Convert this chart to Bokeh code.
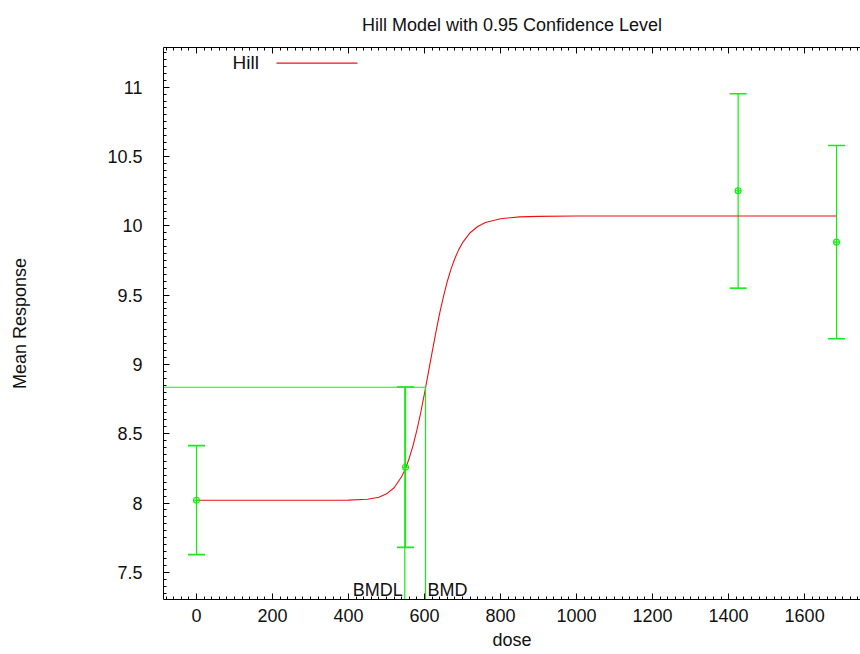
from bokeh.plotting import figure
from bokeh.models import (Range1d, LinearAxis, SingleIntervalTicker, CustomJSTickFormatter,
                          Whisker, TeeHead, ColumnDataSource, Label, BoxAnnotation)
from bokeh.embed import file_html
from bokeh.resources import INLINE

# ---- data ----
dose = [0, 550, 1425, 1684]
mean_response = [8.02, 8.258, 10.253, 9.882]
ci_lower = [7.628, 7.68, 9.550, 9.185]
ci_upper = [8.414, 8.837, 10.952, 10.579]

# Hill model curve
curve_dose = [0, 200, 400, 450, 480, 500, 520, 540, 550, 560, 570, 580, 590, 600,
              610, 620, 630, 640, 650, 660, 670, 680, 690, 700, 720, 740, 760,
              800, 850, 900, 1000, 1200, 1684]
curve_response = [8.02, 8.02, 8.021, 8.027, 8.042, 8.066, 8.110, 8.191, 8.250, 8.325,
                  8.417, 8.527, 8.653, 8.792, 8.940, 9.089, 9.235, 9.371, 9.493, 9.600,
                  9.691, 9.766, 9.828, 9.878, 9.950, 9.995, 10.023, 10.051, 10.064,
                  10.068, 10.070, 10.070, 10.070]

bmr = 8.835
bmd = 602.6
bmdl = 548.0

title_text = "Hill Model with 0.95 Confidence Level"
x_label = "dose"
y_label = "Mean Response"
legend_label = "Hill"

# ---- layout / style ----
X_START, X_END = -86.8, 1747.0
Y_START, Y_END = 7.304, 11.286
FONT = "Liberation Sans"
GREEN = "#11ee11"
RED = "#ee1111"
TXT = "#111111"

p = figure(width=860, height=654, output_backend="svg", toolbar_location=None,
           x_range=Range1d(X_START, X_END), y_range=Range1d(Y_START, Y_END),
           x_axis_location=None, y_axis_location=None,
           min_border_left=163, min_border_right=0, min_border_top=47, min_border_bottom=55)
p.outline_line_color = None
p.xgrid.visible = False
p.ygrid.visible = False
p.background_fill_color = "white"
p.border_fill_color = "white"

p.title.text = title_text
p.title.align = "center"
p.title.text_font = FONT
p.title.text_font_size = "18px"
p.title.text_font_style = "normal"
p.title.text_color = TXT
p.title.standoff = 25

xticker = SingleIntervalTicker(interval=200, num_minor_ticks=10)
yticker = SingleIntervalTicker(interval=0.5, num_minor_ticks=10)
fmt = CustomJSTickFormatter(code="return String(tick);")

def style_axis(ax):
    ax.axis_line_color = "black"
    ax.major_tick_line_color = "black"
    ax.minor_tick_line_color = "black"
    ax.major_tick_in = 6
    ax.major_tick_out = 0
    ax.minor_tick_in = 3
    ax.minor_tick_out = 0
    ax.major_label_text_font = FONT
    ax.major_label_text_color = TXT
    ax.axis_label_text_font = FONT
    ax.axis_label_text_color = TXT
    ax.axis_label_text_font_style = "normal"

xaxis = LinearAxis(ticker=xticker, formatter=fmt, axis_label=x_label)
style_axis(xaxis)
xaxis.major_label_text_font_size = "18px"
xaxis.major_label_standoff = 9
xaxis.axis_label_text_font_size = "18px"
xaxis.axis_label_standoff = 5
p.add_layout(xaxis, "below")

yaxis = LinearAxis(ticker=yticker, formatter=fmt, axis_label=y_label)
style_axis(yaxis)
yaxis.major_label_text_font_size = "18px"
yaxis.major_label_standoff = 21
yaxis.axis_label_text_font_size = "18px"
yaxis.axis_label_standoff = 74
p.add_layout(yaxis, "left")

# mirrored ticks along the top edge (no labels)
top_axis = LinearAxis(ticker=xticker, formatter=fmt)
style_axis(top_axis)
top_axis.major_label_text_color = None
top_axis.major_label_text_font_size = "1px"
top_axis.major_label_standoff = 0
p.add_layout(top_axis, "above")

# model curve
p.line(curve_dose, curve_response, line_color=RED, line_width=1.1)

# BMR / BMD / BMDL lines
p.segment(x0=[X_START, bmd, bmdl], y0=[bmr, Y_START, Y_START],
          x1=[bmd, bmd, bmdl], y1=[bmr, bmr, bmr], line_color=GREEN, line_width=1.2)

# error bars and means
src = ColumnDataSource(dict(dose=dose, mean=mean_response, lower=ci_lower, upper=ci_upper))
p.add_layout(Whisker(source=src, base="dose", lower="lower", upper="upper",
                     line_color=GREEN, line_width=1.2,
                     upper_head=TeeHead(size=17, line_color=GREEN, line_width=1.6),
                     lower_head=TeeHead(size=17, line_color=GREEN, line_width=1.6)))
p.scatter("dose", "mean", source=src, marker="circle_cross", size=6,
          line_color=GREEN, fill_color=GREEN, fill_alpha=0.25, line_width=1.1)

# BMDL / BMD labels
p.add_layout(Label(x=bmdl, y=10, x_units="data", y_units="screen", text="BMDL",
                   text_align="right", text_baseline="alphabetic", x_offset=-2,
                   text_font=FONT, text_font_size="18px", text_color=TXT))
p.add_layout(Label(x=bmd, y=10, x_units="data", y_units="screen", text="BMD",
                   text_align="left", text_baseline="alphabetic", x_offset=2,
                   text_font=FONT, text_font_size="18px", text_color=TXT))

# legend (text then line sample, as in the reference)
p.add_layout(Label(x=69, y=537, x_units="screen", y_units="screen", text=legend_label,
                   text_align="left", text_baseline="middle",
                   text_font=FONT, text_font_size="19px", text_color=TXT))
p.add_layout(BoxAnnotation(left=113, right=194, bottom=535.8, top=537.0,
                           left_units="screen", right_units="screen",
                           bottom_units="screen", top_units="screen",
                           fill_color=RED, fill_alpha=1.0, line_color=None))

open("out.html", "w").write(file_html(p, INLINE))
